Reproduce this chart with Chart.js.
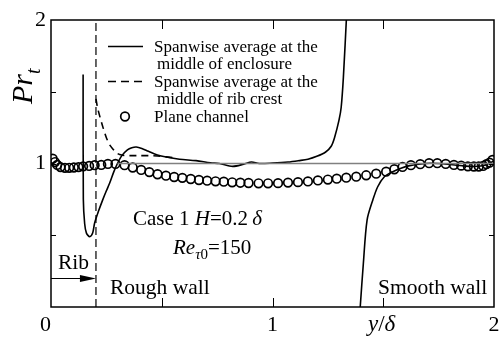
<!DOCTYPE html>
<html>
<head>
<meta charset="utf-8">
<title>Turbulent Prandtl number</title>
<script src="https://cdn.jsdelivr.net/npm/chart.js@4.4.1/dist/chart.umd.min.js"></script>
<style>
  html, body { margin: 0; padding: 0; background: #fff; }
</style>
</head>
<body>
<canvas id="prtChart" width="500" height="343"></canvas>
<script>
// Spanwise average at the middle of enclosure, rough-wall branch
const enclosureX = [0.145, 0.146, 0.152, 0.16, 0.175, 0.188, 0.197, 0.215, 0.233, 0.25, 0.265, 0.283, 0.3, 0.32, 0.345, 0.365, 0.385, 0.41, 0.44, 0.48, 0.52, 0.58, 0.655, 0.72, 0.76, 0.82, 0.87, 0.905, 0.94, 1.0, 1.07, 1.12, 1.16, 1.2, 1.24, 1.265, 1.28, 1.3, 1.31, 1.32, 1.335];
const enclosureY = [1.62, 0.75, 0.58, 0.515, 0.49, 0.515, 0.585, 0.67, 0.745, 0.81, 0.864, 0.94, 1.0, 1.055, 1.095, 1.11, 1.115, 1.105, 1.085, 1.06, 1.045, 1.03, 1.02, 1.005, 1.0, 0.98, 0.995, 1.01, 1.0, 1.003, 1.01, 1.02, 1.03, 1.05, 1.08, 1.12, 1.18, 1.3, 1.39, 1.6, 2.05];

// same curve, smooth-wall branch
const smoothX = [1.396, 1.41, 1.427, 1.453, 1.475, 1.505, 1.543, 1.58, 1.62, 1.67, 1.71, 1.75, 1.79, 1.83, 1.87, 1.91, 1.94, 1.97, 1.99, 2.0];
const smoothY = [0.0, 0.3, 0.606, 0.746, 0.838, 0.908, 0.943, 0.967, 0.985, 0.997, 1.002, 1.0, 0.995, 0.988, 0.982, 0.979, 0.982, 0.995, 1.01, 1.02];

// Spanwise average at the middle of rib crest
const crestX = [0.203, 0.21, 0.22, 0.235, 0.25, 0.265, 0.28, 0.295, 0.31, 0.33, 0.36, 0.4, 0.44, 0.48, 0.52, 0.56];
const crestY = [1.45, 1.39, 1.33, 1.25, 1.18, 1.13, 1.1, 1.075, 1.062, 1.056, 1.055, 1.055, 1.055, 1.052, 1.046, 1.04];

// Plane channel
const channelX = [0.0076, 0.018, 0.028, 0.043, 0.063, 0.082, 0.103, 0.124, 0.145, 0.172, 0.197, 0.227, 0.257, 0.291, 0.332, 0.369, 0.407, 0.444, 0.481, 0.519, 0.556, 0.593, 0.631, 0.668, 0.705, 0.743, 0.78, 0.818, 0.855, 0.892, 0.937, 0.98, 1.025, 1.07, 1.115, 1.16, 1.205, 1.25, 1.29, 1.333, 1.378, 1.423, 1.468, 1.513, 1.55, 1.587, 1.625, 1.667, 1.707, 1.744, 1.782, 1.819, 1.852, 1.882, 1.909, 1.931, 1.951, 1.966, 1.98, 1.993];
const channelY = [1.033, 1.01, 0.99, 0.975, 0.97, 0.97, 0.972, 0.975, 0.98, 0.983, 0.988, 0.99, 0.997, 0.997, 0.988, 0.972, 0.955, 0.94, 0.925, 0.915, 0.906, 0.9, 0.892, 0.885, 0.88, 0.876, 0.873, 0.869, 0.866, 0.864, 0.862, 0.862, 0.863, 0.867, 0.87, 0.875, 0.882, 0.888, 0.894, 0.901, 0.908, 0.918, 0.929, 0.943, 0.96, 0.976, 0.988, 0.995, 1.002, 1.002, 0.997, 0.99, 0.985, 0.98, 0.979, 0.979, 0.983, 0.995, 1.006, 1.025];

// Pr_t = 1 reference and rib top position
const refX = [0.3, 2.0];
const refY = [1.0, 1.0];
const ribX = [0.203, 0.203];
const ribY = [0.0, 2.0];

const xTicks = [0, 0.5, 1, 1.5, 2];
const yTicks = [0.5, 1, 1.5, 2];

const serif = '"Liberation Serif", "DejaVu Serif", serif';

function toPoints(xs, ys) {
    return xs.map((x, i) => ({ x: x, y: ys[i] }));
}

// draws a sequence of text pieces, each with its own font and vertical shift
function drawRuns(ctx, x, y, runs) {
    ctx.textAlign = 'left';
    ctx.textBaseline = 'alphabetic';
    runs.forEach(r => {
        ctx.font = r.f;
        ctx.fillText(r.t, x, y + (r.dy || 0));
        x += ctx.measureText(r.t).width;
    });
}

const decorations = {
    id: 'decorations',
    afterDatasetsDraw(chart) {
        const ctx = chart.ctx;
        const area = chart.chartArea;
        const xs = chart.scales.x;
        const ys = chart.scales.y;
        ctx.save();
        ctx.strokeStyle = '#000';
        ctx.fillStyle = '#000';

        // frame
        ctx.lineWidth = 1.5;
        ctx.strokeRect(area.left, area.top, area.right - area.left, area.bottom - area.top);

        // inward ticks on all four sides
        ctx.lineWidth = 1;
        ctx.beginPath();
        xTicks.forEach(v => {
            if (v <= 0 || v >= 2) return;
            const px = Math.round(xs.getPixelForValue(v)) + 0.5;
            ctx.moveTo(px, area.bottom); ctx.lineTo(px, area.bottom - 9);
            ctx.moveTo(px, area.top); ctx.lineTo(px, area.top + 9);
        });
        yTicks.forEach(v => {
            if (v <= 0 || v >= 2) return;
            const py = Math.round(ys.getPixelForValue(v)) + 0.5;
            ctx.moveTo(area.left, py); ctx.lineTo(area.left + 5, py);
            ctx.moveTo(area.right, py); ctx.lineTo(area.right - 5, py);
        });
        ctx.stroke();

        // legend
        const legendFont = '17px ' + serif;
        ctx.lineWidth = 1.6;
        ctx.beginPath();
        ctx.moveTo(108, 46.5); ctx.lineTo(143, 46.5);
        ctx.stroke();
        ctx.setLineDash([8, 5]);
        ctx.beginPath();
        ctx.moveTo(108, 81.5); ctx.lineTo(145, 81.5);
        ctx.stroke();
        ctx.setLineDash([]);
        ctx.lineWidth = 1.7;
        ctx.beginPath();
        ctx.arc(125, 116.5, 4.3, 0, Math.PI * 2);
        ctx.stroke();
        drawRuns(ctx, 154, 52, [{ t: 'Spanwise average at the', f: legendFont }]);
        drawRuns(ctx, 157, 69, [{ t: 'middle of enclosure', f: legendFont }]);
        drawRuns(ctx, 154, 87, [{ t: 'Spanwise average at the', f: legendFont }]);
        drawRuns(ctx, 157, 104, [{ t: 'middle of rib crest', f: legendFont }]);
        drawRuns(ctx, 154, 122, [{ t: 'Plane channel', f: legendFont }]);

        // case annotation
        const big = '21px ' + serif;
        const bigIt = 'italic 21px ' + serif;
        drawRuns(ctx, 133, 225, [
            { t: 'Case 1 ', f: big },
            { t: 'H', f: bigIt },
            { t: '=0.2\u2009', f: big },
            { t: 'δ', f: bigIt }
        ]);
        drawRuns(ctx, 173, 254, [
            { t: 'Re', f: bigIt },
            { t: 'τ', f: 'italic 15px ' + serif, dy: 5 },
            { t: '0', f: '15px ' + serif, dy: 5 },
            { t: '=150', f: big }
        ]);

        // wall labels
        const wallFont = '21.5px ' + serif;
        drawRuns(ctx, 58, 269, [{ t: 'Rib', f: wallFont }]);
        drawRuns(ctx, 110, 294, [{ t: 'Rough wall', f: wallFont }]);
        drawRuns(ctx, 378, 294, [{ t: 'Smooth wall', f: wallFont }]);

        // rib arrow at Pr_t = 0.2
        const ay = Math.round(ys.getPixelForValue(0.2)) + 0.5;
        const ax0 = xs.getPixelForValue(0);
        const ax1 = xs.getPixelForValue(0.203);
        ctx.lineWidth = 1.2;
        ctx.beginPath();
        ctx.moveTo(ax0, ay); ctx.lineTo(ax1 - 12, ay);
        ctx.stroke();
        ctx.beginPath();
        ctx.moveTo(ax1, ay);
        ctx.lineTo(ax1 - 16, ay - 3.5);
        ctx.lineTo(ax1 - 16, ay + 3.5);
        ctx.closePath();
        ctx.fill();

        // axis titles
        drawRuns(ctx, 368, 331, [
            { t: 'y', f: 'italic 23px ' + serif },
            { t: '/', f: '23px ' + serif },
            { t: 'δ', f: 'italic 23px ' + serif }
        ]);
        ctx.save();
        ctx.translate(32, 104);
        ctx.rotate(-Math.PI / 2);
        drawRuns(ctx, 0, 0, [
            { t: 'Pr', f: 'italic 30px ' + serif },
            { t: 't', f: 'italic 20px ' + serif, dy: 8 }
        ]);
        ctx.restore();

        ctx.restore();
    }
};

const lineStyle = {
    borderColor: '#000',
    backgroundColor: '#000',
    borderWidth: 1.6,
    pointRadius: 0,
    showLine: true,
    tension: 0.3,
    fill: false
};

new Chart(document.getElementById('prtChart'), {
    type: 'scatter',
    data: {
        datasets: [
            { label: 'ref', data: toPoints(refX, refY), borderColor: '#808080', borderWidth: 1.5, pointRadius: 0, showLine: true },
            { label: 'rib', data: toPoints(ribX, ribY), borderColor: '#000', borderWidth: 1.2, borderDash: [8, 4], pointRadius: 0, showLine: true },
            Object.assign({ label: 'Spanwise average at the middle of enclosure', data: toPoints(enclosureX, enclosureY) }, lineStyle),
            Object.assign({ label: 'smooth branch', data: toPoints(smoothX, smoothY) }, lineStyle),
            Object.assign({ label: 'Spanwise average at the middle of rib crest', data: toPoints(crestX, crestY), borderDash: [7, 5] }, lineStyle),
            {
                label: 'Plane channel',
                data: toPoints(channelX, channelY),
                pointStyle: 'circle',
                pointRadius: 4.3,
                pointBorderWidth: 1.7,
                pointBorderColor: '#000',
                pointBackgroundColor: 'rgba(255,255,255,0)',
                showLine: false
            }
        ]
    },
    options: {
        responsive: false,
        animation: false,
        layout: { padding: { left: 0, right: 3, top: 20, bottom: 0 } },
        plugins: {
            legend: { display: false },
            tooltip: { enabled: false }
        },
        scales: {
            x: {
                type: 'linear',
                min: 0,
                max: 2,
                grid: { display: false, drawTicks: false },
                border: { display: false },
                afterBuildTicks: s => { s.ticks = xTicks.map(v => ({ value: v })); },
                afterFit: s => { s.height = 36; s.paddingLeft = 0; s.paddingRight = 0; },
                ticks: {
                    padding: 5,
                    color: '#000',
                    font: { family: serif, size: 22 },
                    maxRotation: 0,
                    autoSkip: false,
                    callback: v => v === 0 ? '0\u2002' : (Number.isInteger(v) ? String(v) : '')
                }
            },
            y: {
                type: 'linear',
                min: 0,
                max: 2,
                grid: { display: false, drawTicks: false },
                border: { display: false },
                afterBuildTicks: s => { s.ticks = yTicks.map(v => ({ value: v })); },
                afterFit: s => { s.width = 51; s.paddingTop = 0; s.paddingBottom = 0; },
                ticks: {
                    padding: 5,
                    color: '#000',
                    font: { family: serif, size: 22 },
                    autoSkip: false,
                    callback: v => Number.isInteger(v) ? String(v) : ''
                }
            }
        }
    },
    plugins: [decorations]
});
</script>
</body>
</html>
